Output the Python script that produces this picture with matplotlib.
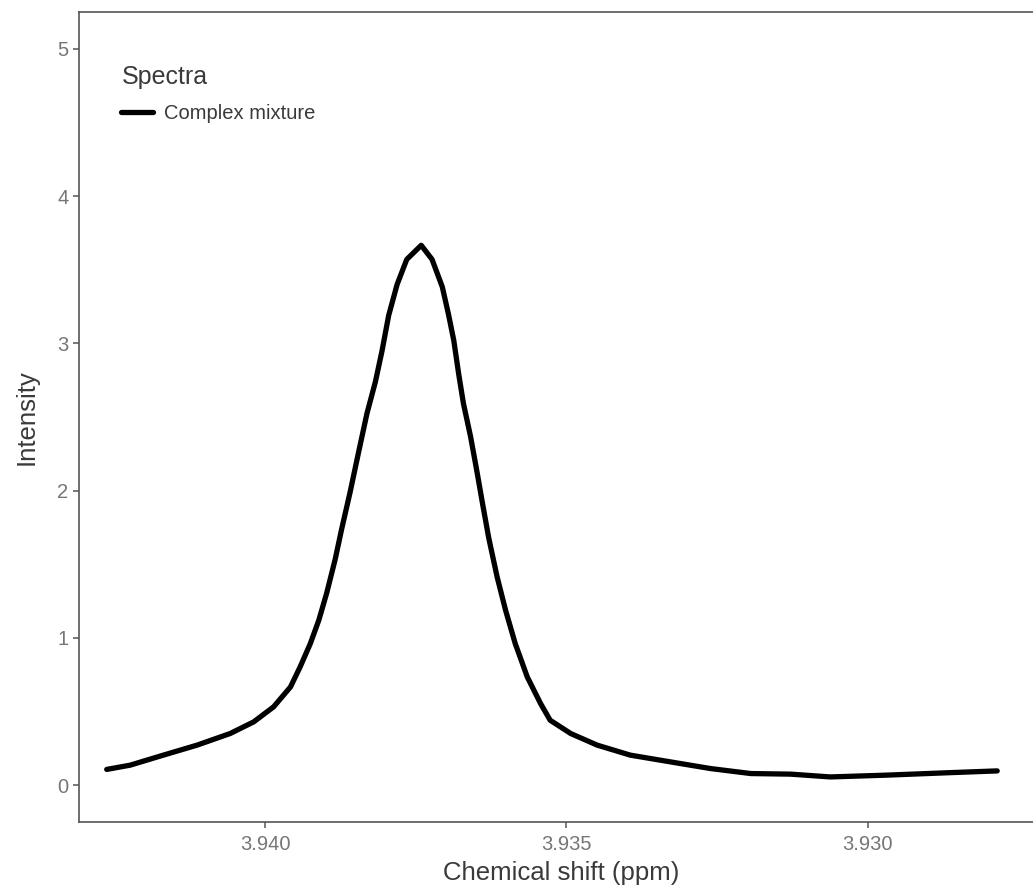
import matplotlib.pyplot as plt

plt.rcParams['font.family'] = ['Liberation Sans', 'DejaVu Sans']

# chemical shift (ppm) and intensity
shift = [3.94263, 3.94224, 3.94169, 3.94113, 3.94058, 3.94019, 3.93986, 3.93958,
         3.93942, 3.93925, 3.93911, 3.93898, 3.93884, 3.93873, 3.93859, 3.93845,
         3.93831, 3.93817, 3.93806, 3.93795, 3.93781, 3.93765, 3.93741, 3.93723,
         3.93706, 3.93696, 3.93687, 3.93679, 3.93671, 3.93659, 3.93648, 3.93640,
         3.93629, 3.93615, 3.93601, 3.93585, 3.93565, 3.93543, 3.93527, 3.93493,
         3.93449, 3.93394, 3.93327, 3.93261, 3.93194, 3.93128, 3.93062, 3.92970,
         3.92870, 3.92785]
intensity = [0.107, 0.136, 0.204, 0.272, 0.351, 0.430, 0.532, 0.667,
             0.803, 0.962, 1.120, 1.303, 1.530, 1.740, 1.990, 2.260,
             2.525, 2.740, 2.950, 3.190, 3.400, 3.570, 3.666, 3.570,
             3.383, 3.202, 3.021, 2.797, 2.593, 2.365, 2.118, 1.930,
             1.680, 1.414, 1.188, 0.962, 0.735, 0.555, 0.441, 0.351,
             0.272, 0.204, 0.158, 0.113, 0.079, 0.075, 0.056, 0.068,
             0.084, 0.097]
series_name = 'Complex mixture'
x_ticks = [3.940, 3.935, 3.930]
y_ticks = [0, 1, 2, 3, 4, 5]

fig = plt.figure(figsize=(10.33, 8.89), dpi=100)
# panel runs a bit past the right edge of the picture (right border cut off)
ax = fig.add_axes([79 / 1033, 67 / 889, 964 / 1033, 810 / 889])

ax.plot(shift, intensity, color='black', lw=3.8, solid_capstyle='round',
        solid_joinstyle='round', label=series_name)

ax.set_xlim(3.94309, 3.92709)
ax.set_ylim(-0.25, 5.25)
ax.set_xticks(x_ticks)
ax.set_xticklabels([f'{t:.3f}' for t in x_ticks])
ax.set_yticks(y_ticks)

for s in ax.spines.values():
    s.set_color('#555555')
    s.set_linewidth(1.2)
ax.tick_params(colors='#555555', labelcolor='#767676', labelsize=14.5,
               length=4, width=1.1, pad=3.5)
ax.tick_params(axis='x', pad=5)

ax.set_xlabel('Chemical shift (ppm)', fontsize=18.5, color='#3a3a3a')
ax.set_ylabel('Intensity', fontsize=18.5, color='#3a3a3a')
ax.xaxis.set_label_coords(0.5, -0.048)
ax.yaxis.set_label_coords(-0.042, 0.5)

leg = ax.legend(title='Spectra', loc='upper left', bbox_to_anchor=(0.044, 0.935),
                frameon=False, fontsize=14.5, title_fontsize=18,
                handlelength=1.55, handletextpad=0.55, borderpad=0, borderaxespad=0)
leg._legend_box.align = 'left'
leg._legend_box.sep = 11
leg.get_title().set_color('#3a3a3a')
for t in leg.get_texts():
    t.set_color('#3a3a3a')

fig.savefig('out.png', dpi=100)
